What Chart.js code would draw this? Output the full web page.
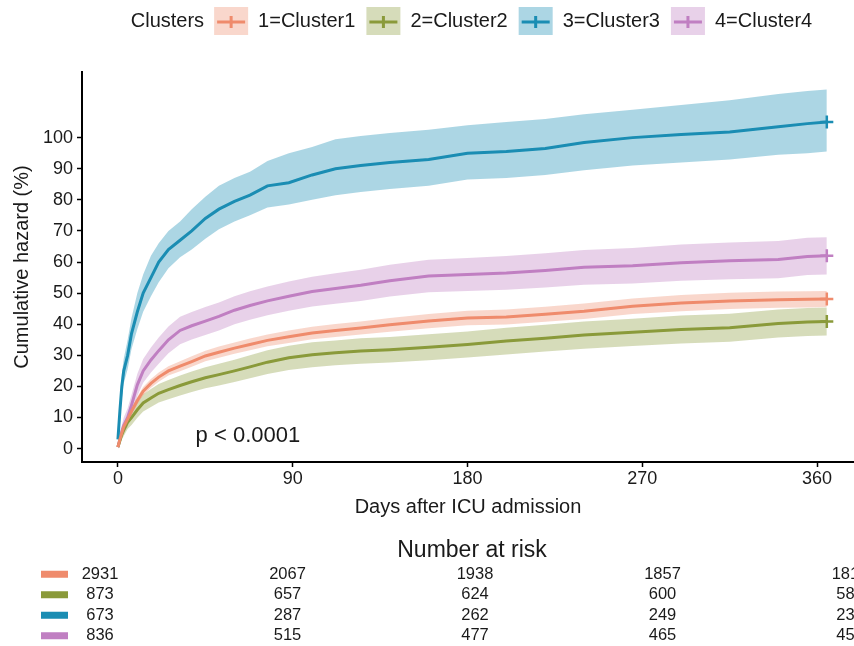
<!DOCTYPE html>
<html lang="en">
<head>
  <meta charset="UTF-8">
  <title>Cumulative hazard by cluster</title>
  <script src="https://cdn.jsdelivr.net/npm/chart.js"></script>
  <style>
    body { margin: 0; background: #fff; font-family: "Liberation Sans", Arial, sans-serif; }
    #wrap { position: relative; width: 854px; height: 646px; overflow: hidden; }
    canvas { display: block; }
  </style>
</head>
<body>
<div id="wrap">
  <canvas id="hazChart" width="854" height="530"></canvas>
  <canvas id="riskChart" width="854" height="116"></canvas>
</div>

<script>
  // Time grid (days after ICU admission)
  const days = [0, 1, 2, 3, 5, 7, 10, 13, 17, 21, 26, 32, 38, 45, 52, 60, 68, 77, 88, 100, 112, 125, 140, 160, 180, 200, 220, 240, 265, 290, 315, 340, 355, 365];

  // Cumulative hazard (%) with confidence band, per cluster
  const c1 = [0.5, 3, 5, 7, 9.5, 12, 15.5, 18.5, 21, 23, 25, 26.5, 28, 29.8, 31, 32.3, 33.5, 34.8, 36, 37.2, 38, 38.8, 39.8, 41, 42, 42.3, 43.2, 44.2, 45.8, 46.8, 47.5, 47.9, 48, 48.1];
  const c1Low = [0, 2.3, 4.2, 6.1, 8.5, 10.9, 14.3, 17.2, 19.6, 21.5, 23.5, 24.9, 26.3, 28.1, 29.2, 30.5, 31.6, 32.9, 34, 35.2, 35.9, 36.7, 37.6, 38.7, 39.7, 39.9, 40.8, 41.7, 43.3, 44.2, 44.9, 45.3, 45.4, 45.5];
  const c1Up = [1, 3.7, 5.8, 7.9, 10.5, 13.1, 16.7, 19.8, 22.4, 24.5, 26.5, 28.1, 29.7, 31.5, 32.8, 34.1, 35.4, 36.7, 38, 39.2, 40.1, 40.9, 42, 43.3, 44.3, 44.7, 45.6, 46.7, 48.3, 49.4, 50.1, 50.5, 50.6, 50.7];

  const c2 = [0.5, 2.5, 4.5, 6, 8.5, 10, 12.5, 14.7, 16.3, 17.8, 19, 20.3, 21.5, 22.8, 23.8, 25, 26.3, 27.8, 29.2, 30.2, 30.8, 31.4, 31.8, 32.6, 33.5, 34.6, 35.5, 36.5, 37.4, 38.3, 38.9, 40.2, 40.7, 40.9];
  const c2Low = [0, 1.3, 2.9, 4.1, 6.3, 7.6, 9.9, 11.9, 13.4, 14.8, 15.9, 17.1, 18.2, 19.4, 20.3, 21.4, 22.6, 24, 25.3, 26.2, 26.8, 27.3, 27.7, 28.4, 29.3, 30.3, 31.2, 32.1, 33, 33.8, 34.4, 35.7, 36.2, 36.4];
  const c2Up = [1, 3.7, 6.1, 7.9, 10.7, 12.4, 15.1, 17.5, 19.2, 20.8, 22.1, 23.5, 24.8, 26.2, 27.3, 28.6, 30, 31.6, 33.1, 34.2, 34.8, 35.5, 35.9, 36.8, 37.7, 38.9, 39.8, 40.9, 41.8, 42.8, 43.4, 44.7, 45.2, 45.4];

  const c3 = [3, 12, 20, 25, 30, 37, 44, 50, 55, 60, 64, 67, 70, 74, 77, 79.5, 81.5, 84.5, 85.5, 88, 90, 91, 92, 93, 95, 95.5, 96.5, 98.4, 100, 101, 101.8, 103.5, 104.5, 105];
  const c3Low = [1.5, 9, 16, 21, 25.5, 32, 38.5, 44, 49, 53.5, 58, 61.5, 64, 67.5, 70.5, 73, 75, 77.5, 78.5, 80, 81.5, 82.5, 83.5, 84.5, 86.5, 87, 88, 89.5, 91, 92, 93, 94.5, 95, 95.5];
  const c3Up = [4.5, 15, 24, 29, 35, 42, 50, 56, 62, 66, 70, 73, 77, 81, 84.5, 87, 89, 92.5, 95, 97, 99.5, 100.5, 101.5, 102.5, 104, 105, 106, 107.5, 109, 110.5, 112, 114, 115, 115.5];

  const c4 = [0.5, 3, 5.5, 7.5, 10, 14, 20.5, 25, 28.5, 31.5, 35, 38, 39.5, 41, 42.5, 44.5, 46, 47.5, 49, 50.5, 51.5, 52.5, 54, 55.5, 56, 56.5, 57.3, 58.3, 58.8, 59.8, 60.4, 60.8, 61.8, 62];
  const c4Low = [0, 1.5, 3.5, 5, 7, 10.7, 16.9, 21.2, 24.5, 27.3, 30.7, 33.6, 35.1, 36.5, 38, 40, 41.4, 42.9, 44.3, 45.7, 46.6, 47.5, 48.9, 50.3, 50.7, 51.1, 51.8, 52.7, 53.1, 54, 54.5, 54.8, 55.8, 56];
  const c4Up = [1, 4.5, 7.5, 10, 13, 17.3, 24.1, 28.8, 32.5, 35.7, 39.3, 42.4, 43.9, 45.5, 47, 49, 50.6, 52.1, 53.7, 55.3, 56.4, 57.5, 59.1, 60.7, 61.3, 61.9, 62.8, 63.9, 64.5, 65.6, 66.3, 66.8, 67.8, 68];

  const clusterNames = ["1=Cluster1", "2=Cluster2", "3=Cluster3", "4=Cluster4"];
  const lineColors = ["#ef8b6c", "#8a9a3a", "#1a8db3", "#c07fc2"];
  const bandColors = ["rgba(239,139,108,0.35)", "rgba(138,154,58,0.35)", "rgba(26,141,179,0.36)", "rgba(192,127,194,0.36)"];

  const xTicks = [0, 90, 180, 270, 360];
  const yTicks = [0, 10, 20, 30, 40, 50, 60, 70, 80, 90, 100];

  // Number at risk table
  const riskTimes = [0, 90, 180, 270, 360];
  const risk1 = [2931, 2067, 1938, 1857, 1812];
  const risk2 = [873, 657, 624, 600, 585];
  const risk3 = [673, 287, 262, 249, 236];
  const risk4 = [836, 515, 477, 465, 452];

  const pText = "p < 0.0001";
  const pDay = 40, pVal = 4;

  const FONT = '"Liberation Sans", Arial, sans-serif';
  const series = [[c1, c1Low, c1Up], [c2, c2Low, c2Up], [c3, c3Low, c3Up], [c4, c4Low, c4Up]];
  const toXY = arr => arr.map((v, i) => ({x: days[i], y: v}));
  const last = days.length - 1;

  const datasets = [];
  series.forEach(([mid, low, up], k) => {
    datasets.push({
      label: clusterNames[k] + " lower", data: toXY(low),
      borderWidth: 0, pointRadius: 0, fill: false
    });
    datasets.push({
      label: clusterNames[k] + " upper", data: toXY(up),
      borderWidth: 0, pointRadius: 0, fill: "-1", backgroundColor: bandColors[k]
    });
    datasets.push({
      label: clusterNames[k], data: toXY(mid),
      borderColor: lineColors[k], backgroundColor: lineColors[k], borderWidth: 3,
      fill: false, pointStyle: "cross",
      pointRadius: ctx => ctx.dataIndex === last ? 6.5 : 0,
      pointBorderWidth: 2.5, pointBorderColor: lineColors[k]
    });
  });

  // legend row at the top and p-value label
  const decorations = {
    id: "decorations",
    afterDatasetsDraw(chart) {
      const {ctx, scales: {x, y}} = chart;
      ctx.save();
      ctx.fillStyle = "#1a1a1a";
      ctx.font = "22px " + FONT;
      ctx.textAlign = "left";
      ctx.textBaseline = "middle";
      ctx.fillText(pText, x.getPixelForValue(pDay), y.getPixelForValue(pVal));
      ctx.restore();
    },
    afterDraw(chart) {
      const ctx = chart.ctx;
      ctx.save();
      ctx.font = "20px " + FONT;
      ctx.textBaseline = "middle";
      ctx.textAlign = "left";
      const boxW = 34, boxH = 28, gap = 10, itemGap = 11, cy = 21;
      let total = ctx.measureText("Clusters").width + gap;
      clusterNames.forEach((n, i) => {
        total += boxW + gap + ctx.measureText(n).width + (i < 3 ? itemGap : 0);
      });
      let cx = 471.5 - total / 2;
      ctx.fillStyle = "#1a1a1a";
      ctx.fillText("Clusters", cx, cy);
      cx += ctx.measureText("Clusters").width + gap;
      clusterNames.forEach((n, i) => {
        ctx.fillStyle = bandColors[i];
        ctx.fillRect(cx, cy - boxH / 2, boxW, boxH);
        ctx.strokeStyle = lineColors[i];
        ctx.lineWidth = 3;
        ctx.beginPath();
        ctx.moveTo(cx + 3, cy + 1);
        ctx.lineTo(cx + boxW - 3, cy + 1);
        ctx.moveTo(cx + boxW / 2, cy - 5);
        ctx.lineTo(cx + boxW / 2, cy + 7);
        ctx.stroke();
        cx += boxW + gap;
        ctx.fillStyle = "#1a1a1a";
        ctx.fillText(n, cx, cy);
        cx += ctx.measureText(n).width + itemGap;
      });
      ctx.restore();
    }
  };

  new Chart(document.getElementById("hazChart"), {
    type: "line",
    data: { datasets: datasets },
    options: {
      responsive: false,
      animation: false,
      events: [],
      layout: { autoPadding: false, padding: { top: 72, right: 0, left: 0, bottom: 0 } },
      plugins: {
        legend: { display: false },
        tooltip: { enabled: false },
        filler: { drawTime: "beforeDatasetsDraw" }
      },
      elements: { line: { tension: 0 } },
      scales: {
        x: {
          type: "linear", min: -18.5, max: 379,
          afterBuildTicks: s => { s.ticks = xTicks.map(v => ({value: v})); },
          afterFit: s => { s.height = 68; },
          grid: { drawOnChartArea: false, color: "#000", tickLength: 5, tickWidth: 1.5 },
          border: { display: true, color: "#000", width: 2 },
          ticks: { color: "#1a1a1a", font: { family: FONT, size: 18 }, padding: 1, maxRotation: 0 },
          title: { display: true, text: "Days after ICU admission", color: "#1a1a1a",
                   font: { family: FONT, size: 20 }, padding: { top: 0, bottom: 11 } }
        },
        y: {
          type: "linear", min: -4.3, max: 121.1,
          afterBuildTicks: s => { s.ticks = yTicks.map(v => ({value: v})); },
          afterFit: s => { s.width = 82; },
          grid: { drawOnChartArea: false, color: "#000", tickLength: 5, tickWidth: 1.5 },
          border: { display: true, color: "#000", width: 2 },
          ticks: { color: "#1a1a1a", font: { family: FONT, size: 18 }, padding: 4 },
          title: { display: true, text: "Cumulative hazard (%)", color: "#1a1a1a",
                   font: { family: FONT, size: 20 }, padding: { top: 10, bottom: 0 } }
        }
      }
    },
    plugins: [decorations]
  });

  // Number at risk table, laid out on its own hidden scales
  const riskRows = [risk1, risk2, risk3, risk4];
  const riskTable = {
    id: "riskTable",
    afterDraw(chart) {
      const {ctx, scales: {x, y}} = chart;
      ctx.save();
      ctx.fillStyle = "#1a1a1a";
      ctx.textAlign = "center";
      ctx.textBaseline = "middle";
      ctx.font = "23px " + FONT;
      ctx.fillText("Number at risk", x.getPixelForValue(180) - 3, 21);
      ctx.font = "16.5px " + FONT;
      riskRows.forEach((row, r) => {
        const py = y.getPixelForValue(r);
        ctx.fillStyle = lineColors[r];
        ctx.fillRect(41, py - 3.5, 27, 7);
        ctx.fillStyle = "#1a1a1a";
        row.forEach((n, c) => {
          ctx.fillText(String(n), x.getPixelForValue(riskTimes[c]), py);
        });
      });
      ctx.restore();
    }
  };

  new Chart(document.getElementById("riskChart"), {
    type: "scatter",
    data: { datasets: [{ data: [], pointRadius: 0 }] },
    options: {
      responsive: false,
      animation: false,
      events: [],
      layout: { autoPadding: false, padding: { top: 34, right: 0, left: 0, bottom: 0 } },
      plugins: { legend: { display: false }, tooltip: { enabled: false } },
      scales: {
        x: { type: "linear", display: false, min: -48, max: 361.9 },
        y: { type: "linear", display: false, min: -0.5, max: 3.5, reverse: true }
      }
    },
    plugins: [riskTable]
  });
</script>
</body>
</html>
